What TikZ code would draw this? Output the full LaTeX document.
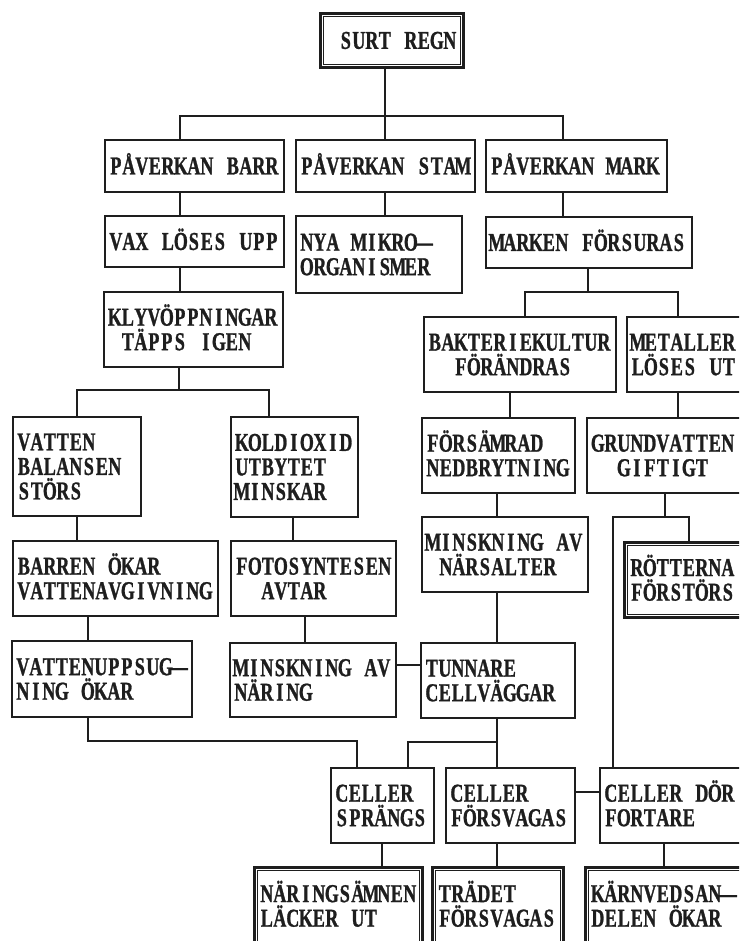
\documentclass[tikz,border=0pt]{standalone}
\usepackage{fontspec}
\newfontfamily\cellfont[FakeStretch=0.7,FakeBold=1.0]{Liberation Serif Bold}
\definecolor{ink}{HTML}{1E1E1E}
\makeatletter
\newcommand\monotext[1]{\@tfor\monochar:=#1\do{\makebox[9.75pt][c]{\monochar}}}
\makeatother
\newcommand\tops{\rule{0pt}{17.8pt}}
\newcommand\bots{\rule[-5.0pt]{0pt}{5.0pt}}
\tikzset{
  cellbox/.style={draw=ink, line width=1.3pt, rectangle, anchor=north west,
    inner xsep=3.375pt, inner ysep=0pt, align=left, text=ink,
    font=\cellfont\fontsize{19.3pt}{18.4pt}\selectfont},
  heavybox/.style={cellbox, line width=2pt, inner xsep=4.5pt,
    path picture={\draw[ink, line width=0.8pt]
      ([shift={(2.3pt,-2.3pt)}]path picture bounding box.north west) rectangle
      ([shift={(-2.3pt,2.3pt)}]path picture bounding box.south east);}},
  conn/.style={draw=ink, line width=1.3pt},
}
\begin{document}
\begin{tikzpicture}[x=0.75pt,y=-0.75pt]
\useasboundingbox (0,0) rectangle (739,941);
\fill[white] (0,0) rectangle (739,941);
\clip (0,0) rectangle (739,941);

% boxes
\node[heavybox, minimum width=107.25pt, minimum height=40.5pt, text width=98.25pt] (surt) at (319,12) {\tops\monotext{~SURT~REGN}\bots};
\node[cellbox, minimum width=134.25pt, minimum height=39pt, text width=127.5pt] (barr) at (104,139) {\tops\monotext{PÅVERKAN~BARR}\bots};
\node[cellbox, minimum width=134.25pt, minimum height=39pt, text width=127.5pt] (stam) at (295,139) {\tops\monotext{PÅVERKAN~STAM}\bots};
\node[cellbox, minimum width=135.75pt, minimum height=39pt, text width=129pt] (mark) at (485,139) {\tops\monotext{PÅVERKAN~MARK}\bots};
\node[cellbox, minimum width=134.25pt, minimum height=38.25pt, text width=127.5pt] (vax) at (104,215) {\tops\monotext{VAX~LÖSES~UPP}\bots};
\node[cellbox, minimum width=124.5pt, minimum height=57.75pt, text width=117.75pt] (nya) at (295,215) {\tops\monotext{NYA~MIKRO—}\\\monotext{ORGANISMER}\bots};
\node[cellbox, minimum width=154.5pt, minimum height=38.25pt, text width=147.75pt] (marken) at (485,216) {\tops\monotext{MARKEN~FÖRSURAS}\bots};
\node[cellbox, minimum width=134.25pt, minimum height=56.25pt, text width=127.5pt] (klyv) at (103,291) {\tops\monotext{KLYVÖPPNINGAR}\\\monotext{~TÄPPS~IGEN}\bots};
\node[cellbox, minimum width=144pt, minimum height=56.25pt, text width=137.25pt] (bakt) at (423,316) {\tops\monotext{BAKTERIEKULTUR}\\\monotext{~~FÖRÄNDRAS}\bots};
\node[cellbox, minimum width=100.5pt, minimum height=56.25pt, text width=93.75pt] (metal) at (626,316) {\tops\monotext{METALLER}\\\monotext{LÖSES~UT}\bots};
\node[cellbox, minimum width=96pt, minimum height=74.25pt, text width=89.25pt] (vatten) at (12,416) {\tops\monotext{VATTEN}\\\monotext{BALANSEN}\\\monotext{STÖRS}\bots};
\node[cellbox, minimum width=95.25pt, minimum height=75pt, text width=88.5pt] (koldi) at (230,416) {\tops\monotext{KOLDIOXID}\\\monotext{UTBYTET}\\\monotext{MINSKAR}\bots};
\node[cellbox, minimum width=114.75pt, minimum height=56.25pt, text width=108pt] (forsam) at (421,417) {\tops\monotext{FÖRSÄMRAD}\\\monotext{NEDBRYTNING}\bots};
\node[cellbox, minimum width=130.5pt, minimum height=56.25pt, text width=123.75pt] (grund) at (586,417) {\tops\monotext{GRUNDVATTEN}\\\monotext{~~GIFTIGT}\bots};
\node[cellbox, minimum width=124.5pt, minimum height=56.25pt, text width=117.75pt] (minsk1) at (421,516) {\tops\monotext{MINSKNING~AV}\\\monotext{~NÄRSALTER}\bots};
\node[heavybox, minimum width=102.75pt, minimum height=56.25pt, text width=93.75pt] (rott) at (623,541) {\tops\monotext{RÖTTERNA}\\\monotext{FÖRSTÖRS}\bots};
\node[cellbox, minimum width=153.75pt, minimum height=56.25pt, text width=147pt] (barren) at (12,540) {\tops\monotext{BARREN~ÖKAR}\\\monotext{VATTENAVGIVNING}\bots};
\node[cellbox, minimum width=123.75pt, minimum height=56.25pt, text width=117pt] (foto) at (230,540) {\tops\monotext{FOTOSYNTESEN}\\\monotext{~~AVTAR}\bots};
\node[cellbox, minimum width=135pt, minimum height=57pt, text width=128.25pt] (vupp) at (11,640) {\tops\monotext{VATTENUPPSUG—}\\\monotext{NING~ÖKAR}\bots};
\node[cellbox, minimum width=124.5pt, minimum height=55.5pt, text width=117.75pt] (minsk2) at (229,642) {\tops\monotext{MINSKNING~AV}\\\monotext{NÄRING}\bots};
\node[cellbox, minimum width=115.5pt, minimum height=56.25pt, text width=108.75pt] (tunn) at (420,642) {\tops\monotext{TUNNARE}\\\monotext{CELLVÄGGAR}\bots};
\node[cellbox, minimum width=77.25pt, minimum height=56.25pt, text width=70.5pt] (spr) at (330,767) {\tops\monotext{CELLER}\\\monotext{SPRÄNGS}\bots};
\node[cellbox, minimum width=96.75pt, minimum height=56.25pt, text width=90pt] (forsv) at (445,767) {\tops\monotext{CELLER}\\\monotext{FÖRSVAGAS}\bots};
\node[cellbox, minimum width=120.75pt, minimum height=56.25pt, text width=114pt] (dor) at (599,767) {\tops\monotext{CELLER~DÖR}\\\monotext{FORTARE}\bots};
\node[heavybox, minimum width=126pt, minimum height=57.75pt, text width=117pt] (narings) at (253,866) {\tops\monotext{NÄRINGSÄMNEN}\\\monotext{LÄCKER~UT}\bots};
\node[heavybox, minimum width=98.25pt, minimum height=57.75pt, text width=89.25pt] (tradet) at (431,866) {\tops\monotext{TRÄDET}\\\monotext{FÖRSVAGAS}\bots};
\node[heavybox, minimum width=132pt, minimum height=57.75pt, text width=123pt] (karn) at (584,866) {\tops\monotext{KÄRNVEDSAN—}\\\monotext{DELEN~ÖKAR}\bots};

% junction coordinates
\coordinate (j1) at (385,116);
\coordinate (b1) at (180,116);
\coordinate (b2) at (563,116);
\coordinate (m1) at (588,292);
\coordinate (m2) at (525,292);
\coordinate (m3) at (678,292);
\coordinate (k1) at (179,390);
\coordinate (k2) at (77,390);
\coordinate (k3) at (269,390);
\coordinate (f1) at (293,528);
\coordinate (d1) at (510,404);
\coordinate (n1) at (497,504);
\coordinate (g1) at (665,517);
\coordinate (g2) at (613,517);
\coordinate (g3) at (689,517);
\coordinate (u1) at (88,741);
\coordinate (u2) at (357,741);
\coordinate (p1) at (305,628);
\coordinate (h1) at (408,665);
\coordinate (n2) at (497,742);
\coordinate (n3) at (408,742);
\coordinate (h2) at (586,792);
\coordinate (s1) at (382,854);
\coordinate (r1) at (664,854);

% connectors
\draw[conn] (surt.south -| j1) -- (stam.north -| j1);
\draw[conn] (barr.north -| b1) -- (b1) -- (b2) -- (mark.north -| b2);
\draw[conn] (barr.south -| b1) -- (vax.north -| b1);
\draw[conn] (stam.south -| j1) -- (nya.north -| j1);
\draw[conn] (mark.south -| b2) -- (marken.north -| b2);
\draw[conn] (vax.south -| b1) -- (klyv.north -| b1);
\draw[conn] (marken.south -| m1) -- (m1);
\draw[conn] (bakt.north -| m2) -- (m2) -- (m3) -- (metal.north -| m3);
\draw[conn] (klyv.south -| k1) -- (k1);
\draw[conn] (vatten.north -| k2) -- (k2) -- (k3) -- (koldi.north -| k3);
\draw[conn] (vatten.south -| k2) -- (barren.north -| k2);
\draw[conn] (koldi.south -| f1) -- (foto.north -| f1);
\draw[conn] (bakt.south -| d1) -- (forsam.north -| d1);
\draw[conn] (metal.south -| m3) -- (grund.north -| m3);
\draw[conn] (forsam.south -| n1) -- (minsk1.north -| n1);
\draw[conn] (grund.south -| g1) -- (g1);
\draw[conn] (dor.north -| g2) -- (g2) -- (g3) -- (rott.north -| g3);
\draw[conn] (barren.south -| u1) -- (vupp.north -| u1);
\draw[conn] (foto.south -| p1) -- (minsk2.north -| p1);
\draw[conn] (minsk1.south -| n1) -- (tunn.north -| n1);
\draw[conn] (minsk2.east |- h1) -- (tunn.west |- h1);
\draw[conn] (vupp.south -| u1) -- (u1) -- (u2) -- (spr.north -| u2);
\draw[conn] (tunn.south -| n2) -- (forsv.north -| n2);
\draw[conn] (n2) -- (n3) -- (spr.north -| n3);
\draw[conn] (forsv.east |- h2) -- (dor.west |- h2);
\draw[conn] (spr.south -| s1) -- (narings.north -| s1);
\draw[conn] (forsv.south -| n2) -- (tradet.north -| n2);
\draw[conn] (dor.south -| r1) -- (karn.north -| r1);
\end{tikzpicture}
\end{document}
